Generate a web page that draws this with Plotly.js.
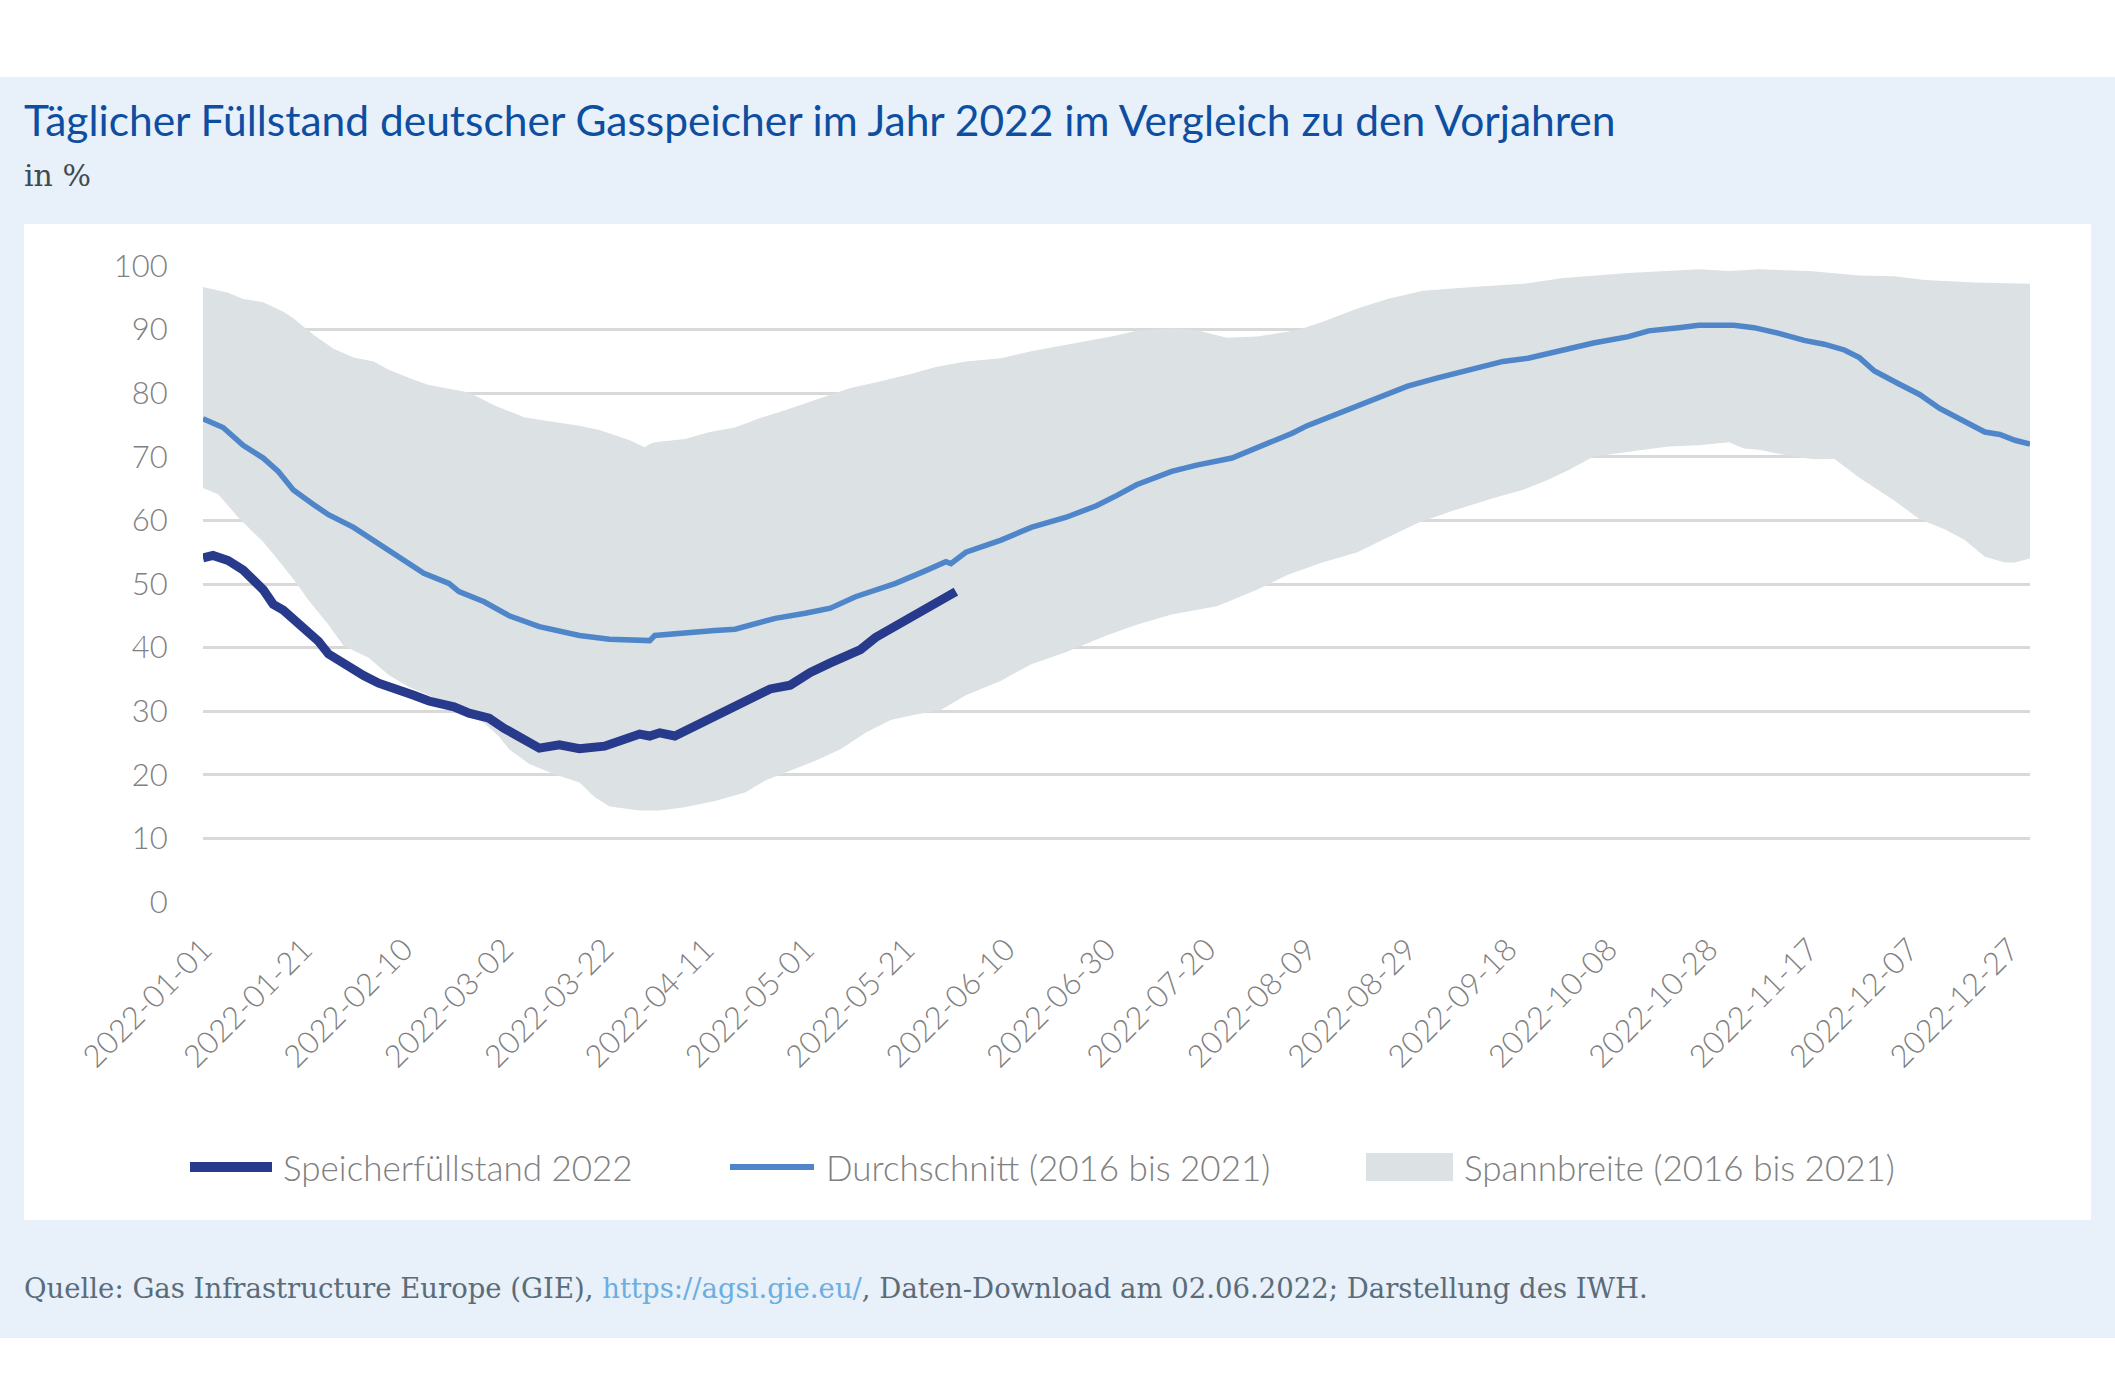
<!DOCTYPE html>
<html>
<head>
<meta charset="utf-8">
<script src="https://cdn.plot.ly/plotly-3.0.1.min.js"></script>
<style>
html,body{margin:0;padding:0;background:#ffffff;}
#chart{width:2115px;height:1384px;}
</style>
</head>
<body>
<div id="chart"></div>
<script>
// ---------- data ----------
const dates2022 = ['2022-01-01','2022-01-03','2022-01-06','2022-01-09','2022-01-13','2022-01-15','2022-01-17','2022-01-21','2022-01-24','2022-01-26','2022-01-29','2022-02-02','2022-02-05','2022-02-08','2022-02-12','2022-02-15','2022-02-20','2022-02-23','2022-02-27','2022-03-02','2022-03-05','2022-03-07','2022-03-09','2022-03-13','2022-03-17','2022-03-22','2022-03-24','2022-03-27','2022-03-29','2022-03-31','2022-04-02','2022-04-05','2022-04-08','2022-04-12','2022-04-16','2022-04-20','2022-04-24','2022-04-28','2022-05-02','2022-05-06','2022-05-09','2022-05-12','2022-05-15','2022-05-19','2022-05-23','2022-05-27','2022-05-30','2022-05-31'];
const values2022 = [54.1,54.5,53.7,52.2,49.1,46.8,45.9,43.2,41.0,39.0,37.4,35.6,34.4,33.7,32.5,31.6,30.7,29.7,28.9,27.3,25.8,25.0,24.2,24.7,24.1,24.5,25.0,25.8,26.4,26.1,26.6,26.1,27.3,28.6,30.4,31.8,33.5,34.1,36.1,37.6,38.7,39.7,41.6,43.4,45.2,47.2,48.5,48.8];

const datesAvg = ['2022-01-01','2022-01-05','2022-01-09','2022-01-13','2022-01-16','2022-01-19','2022-01-23','2022-01-26','2022-01-31','2022-02-04','2022-02-08','2022-02-14','2022-02-19','2022-02-21','2022-02-26','2022-03-03','2022-03-09','2022-03-13','2022-03-17','2022-03-23','2022-03-31','2022-04-01','2022-04-07','2022-04-13','2022-04-17','2022-04-20','2022-04-25','2022-05-01','2022-05-06','2022-05-11','2022-05-19','2022-05-25','2022-05-29','2022-05-30','2022-06-02','2022-06-09','2022-06-15','2022-06-22','2022-06-28','2022-07-02','2022-07-06','2022-07-13','2022-07-18','2022-07-25','2022-08-01','2022-08-06','2022-08-09','2022-08-15','2022-08-22','2022-08-29','2022-09-04','2022-09-11','2022-09-17','2022-09-22','2022-09-29','2022-10-05','2022-10-12','2022-10-16','2022-10-22','2022-10-26','2022-11-02','2022-11-06','2022-11-11','2022-11-16','2022-11-20','2022-11-24','2022-11-27','2022-11-30','2022-12-05','2022-12-09','2022-12-13','2022-12-17','2022-12-22','2022-12-25','2022-12-28','2022-12-31'];
const valuesAvg = [76.0,74.6,71.8,69.8,67.7,64.8,62.5,60.9,58.9,56.9,54.7,51.7,50.1,48.8,47.2,45.0,43.3,42.7,41.9,41.3,41.1,41.9,42.4,42.7,42.9,43.6,44.6,45.4,46.2,48.0,50.1,52.1,53.5,53.2,55.0,56.9,58.9,60.5,62.3,63.9,65.6,67.7,68.7,69.8,72.0,73.7,74.9,76.8,79.1,81.1,82.4,83.9,85.0,85.5,86.8,87.9,88.9,89.8,90.3,90.7,90.7,90.3,89.4,88.3,87.7,86.8,85.6,83.5,81.4,79.8,77.6,76.0,73.9,73.5,72.6,72.0];

const datesMax = ['2022-01-01','2022-01-06','2022-01-09','2022-01-13','2022-01-17','2022-01-19','2022-01-23','2022-01-27','2022-01-31','2022-02-04','2022-02-07','2022-02-12','2022-02-15','2022-02-23','2022-02-28','2022-03-06','2022-03-10','2022-03-17','2022-03-21','2022-03-27','2022-03-30','2022-03-31','2022-04-01','2022-04-07','2022-04-12','2022-04-17','2022-04-22','2022-04-28','2022-05-05','2022-05-10','2022-05-15','2022-05-22','2022-05-27','2022-06-02','2022-06-09','2022-06-15','2022-06-22','2022-07-01','2022-07-06','2022-07-13','2022-07-18','2022-07-24','2022-07-30','2022-08-07','2022-08-12','2022-08-19','2022-08-25','2022-09-01','2022-09-11','2022-09-21','2022-09-29','2022-10-12','2022-10-26','2022-11-01','2022-11-07','2022-11-17','2022-11-27','2022-12-04','2022-12-10','2022-12-20','2022-12-31'];
const valuesMax = [96.7,95.8,94.8,94.3,92.8,91.8,89.2,87.0,85.6,85.0,83.7,82.1,81.3,80.1,78.1,76.2,75.7,74.9,74.2,72.6,71.5,72.0,72.3,72.8,73.9,74.6,76.1,77.6,79.5,80.8,81.7,83.0,84.1,85.0,85.5,86.6,87.6,88.9,89.8,90.2,89.9,88.7,88.9,89.9,91.2,93.3,94.8,96.1,96.7,97.2,98.1,98.9,99.5,99.2,99.5,99.2,98.5,98.4,97.8,97.4,97.2];

const datesMin = ['2022-01-01','2022-01-04','2022-01-08','2022-01-13','2022-01-15','2022-01-19','2022-01-22','2022-01-26','2022-01-29','2022-02-03','2022-02-07','2022-02-11','2022-02-15','2022-02-20','2022-02-26','2022-03-01','2022-03-03','2022-03-07','2022-03-12','2022-03-17','2022-03-20','2022-03-23','2022-03-29','2022-04-02','2022-04-07','2022-04-13','2022-04-19','2022-04-23','2022-04-28','2022-05-03','2022-05-08','2022-05-13','2022-05-18','2022-05-23','2022-05-28','2022-06-02','2022-06-09','2022-06-15','2022-06-22','2022-06-30','2022-07-06','2022-07-13','2022-07-22','2022-07-30','2022-08-05','2022-08-12','2022-08-19','2022-08-25','2022-08-31','2022-09-07','2022-09-15','2022-09-21','2022-09-26','2022-09-30','2022-10-05','2022-10-12','2022-10-20','2022-10-26','2022-11-01','2022-11-04','2022-11-07','2022-11-14','2022-11-18','2022-11-22','2022-11-27','2022-12-04','2022-12-09','2022-12-14','2022-12-18','2022-12-22','2022-12-26','2022-12-28','2022-12-31'];
const valuesMin = [65.1,64.1,60.5,56.6,54.7,50.8,47.5,43.6,40.3,38.4,35.7,33.8,32.5,30.2,28.2,26.0,24.0,21.7,20.1,18.8,16.5,15.0,14.4,14.4,14.9,15.9,17.2,19.1,20.7,22.2,24.0,26.6,28.6,29.5,30.2,32.5,34.8,37.4,39.3,41.9,43.6,45.2,46.5,49.1,51.4,53.4,55.0,57.3,59.6,61.5,63.5,64.8,66.4,67.9,70.0,70.8,71.6,71.8,72.3,71.3,71.1,70.0,69.6,69.7,66.7,63.1,60.2,58.6,56.9,54.3,53.4,53.4,54.0];

const seriesNames = ['Speicherfüllstand 2022','Durchschnitt (2016 bis 2021)','Spannbreite (2016 bis 2021)'];
const titleText = 'Täglicher Füllstand deutscher Gasspeicher im Jahr 2022 im Vergleich zu den Vorjahren';
const unitText = 'in %';
const sourceText = 'Quelle: Gas Infrastructure Europe (GIE), <span style="color:#6aaee2">https://agsi.gie.eu/</span>, Daten-Download am 02.06.2022; Darstellung des IWH.';

// ---------- styling ----------
const NAVY = '#283a8b', MID = '#4f86c9', BAND = '#dce1e4', GRID = '#d9d9d9', TXT = '#808080';
const W = 2115, H = 1384;
const M = {l: 203, r: 85, t: 266, b: 482, pad: 0};
const pw = W - M.l - M.r, ph = H - M.t - M.b;
const px = X => (X - M.l) / pw;
const py = Y => (H - M.b - Y) / ph;
const SANS = 'Lato, "Open Sans", sans-serif';
const SERIF = '"DejaVu Serif", "Liberation Serif", serif';

const traces = [
  {
    x: datesMax.concat(datesMin.slice().reverse()),
    y: valuesMax.concat(valuesMin.slice().reverse()),
    type: 'scatter', mode: 'lines', fill: 'toself', fillcolor: BAND,
    line: {width: 0, color: BAND}, name: seriesNames[2], showlegend: false, hoverinfo: 'skip'
  },
  {
    x: datesAvg, y: valuesAvg, type: 'scatter', mode: 'lines',
    line: {color: MID, width: 5.5}, name: seriesNames[1], showlegend: false
  },
  {
    x: dates2022, y: values2022, type: 'scatter', mode: 'lines',
    line: {color: NAVY, width: 9}, name: seriesNames[0], showlegend: false
  }
];

const shapes = [
  {type: 'rect', xref: 'paper', yref: 'paper', x0: px(0), x1: px(W), y0: py(1338), y1: py(77),
   fillcolor: '#e8f0f9', line: {width: 0}, layer: 'below'},
  {type: 'rect', xref: 'paper', yref: 'paper', x0: px(24), x1: px(2091), y0: py(1220), y1: py(224),
   fillcolor: '#ffffff', line: {width: 0}, layer: 'below'},
  // legend samples
  {type: 'line', xref: 'paper', yref: 'paper', x0: px(190), x1: px(272), y0: py(1167), y1: py(1167),
   line: {color: NAVY, width: 10}},
  {type: 'line', xref: 'paper', yref: 'paper', x0: px(730), x1: px(814), y0: py(1167), y1: py(1167),
   line: {color: MID, width: 6}},
  {type: 'rect', xref: 'paper', yref: 'paper', x0: px(1366), x1: px(1453), y0: py(1181), y1: py(1153),
   fillcolor: BAND, line: {width: 0}}
];

const legendFont = {family: SANS, size: 35, color: TXT, weight: 300};
const annotations = [
  {text: unitText, xref: 'paper', yref: 'paper', x: px(22), y: py(175), xanchor: 'left', yanchor: 'middle',
   showarrow: false, font: {family: SERIF, size: 30, color: '#3f4b52'}},
  {text: seriesNames[0], xref: 'paper', yref: 'paper', x: px(281), y: py(1167), xanchor: 'left', yanchor: 'middle',
   showarrow: false, font: legendFont},
  {text: seriesNames[1], xref: 'paper', yref: 'paper', x: px(824), y: py(1167), xanchor: 'left', yanchor: 'middle',
   showarrow: false, font: legendFont},
  {text: seriesNames[2], xref: 'paper', yref: 'paper', x: px(1462), y: py(1167), xanchor: 'left', yanchor: 'middle',
   showarrow: false, font: legendFont},
  {text: sourceText, xref: 'paper', yref: 'paper', x: px(22), y: py(1288), xanchor: 'left', yanchor: 'middle',
   showarrow: false, font: {family: SERIF, size: 27.5, color: '#5a6c7a'}}
];

const layout = {
  width: W, height: H,
  margin: M,
  paper_bgcolor: '#ffffff',
  plot_bgcolor: 'rgba(0,0,0,0)',
  showlegend: false,
  title: {
    text: titleText, font: {family: SANS, size: 42.5, color: '#0d4ea1'},
    x: 24 / W, xref: 'container', xanchor: 'left',
    y: 1 - 121 / H, yref: 'container', yanchor: 'middle'
  },
  xaxis: {
    type: 'date', range: ['2022-01-01', '2022-12-31'],
    tick0: '2022-01-01', dtick: 20 * 86400000, tickformat: '%Y-%m-%d',
    tickangle: -45, showgrid: false, zeroline: false, showline: false,
    ticks: 'outside', ticklen: 16, tickcolor: 'rgba(0,0,0,0)',
    tickfont: {family: SANS, size: 31, color: TXT, weight: 300}
  },
  yaxis: {
    range: [0, 100], tick0: 0, dtick: 10, showgrid: true, gridcolor: GRID, gridwidth: 3,
    zeroline: false, showline: false,
    ticks: 'outside', ticklen: 28, tickcolor: 'rgba(0,0,0,0)',
    tickfont: {family: SANS, size: 31, color: TXT, weight: 300}
  },
  shapes: shapes,
  annotations: annotations
};

Plotly.newPlot('chart', traces, layout, {displayModeBar: false, responsive: false});
</script>
</body>
</html>
